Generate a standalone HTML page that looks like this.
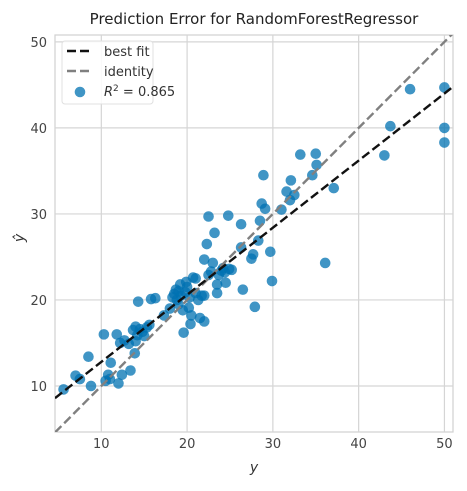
<!DOCTYPE html>
<html><head><meta charset="utf-8"><style>
body{margin:0;background:#fff;font-family:"DejaVu Sans","Liberation Sans",sans-serif;}
</style></head><body>
<svg id="chart" width="467" height="487" xmlns="http://www.w3.org/2000/svg"></svg>
<script>
const xTicks=[10,20,30,40,50];
const yTicks=[10,20,30,40,50];
const yTrue=[5.6,7,7.5,8.5,8.8,10.3,10.5,10.8,11,11.1,11.8,12,12.2,12.4,12.7,13.2,13.4,13.7,13.9,14,14.2,14,14.3,14.5,14.8,15,15.3,15.6,15.8,16.3,17.3,18,18.3,18.5,18.7,18.8,19,19,19.2,19.3,19.5,19.6,19.8,19.9,20,20.2,20.3,20.4,20.5,20.7,21,21,21.3,21.5,21.7,22,22,22,22.3,22.5,22.5,22.8,23,23.2,23.5,23.5,23.7,24,24.2,24.4,24.5,24.8,24.9,25.2,26.3,26.3,26.5,27.5,27.7,27.9,28.3,28.5,28.7,28.9,29.1,29.7,29.9,31,31.6,32,32.1,32.5,33.2,34.6,35,35.1,36.1,37.1,43,43.7,46,50,50,50];
const yPred=[9.6,11.2,10.8,13.4,10,16,10.6,11.3,10.8,12.7,16,10.3,15,11.3,15.3,14.9,11.8,16.5,13.8,15.2,15.9,16.9,19.8,16.6,16.3,15.8,16.8,17.1,20.1,20.2,18.2,19,20.3,20.7,21.2,20,21,19.5,21.8,20.5,18.8,16.2,20.9,22.1,21.5,19.1,20.3,17.2,18.2,22.6,22.5,20.8,20,17.9,20.5,24.7,20.5,17.5,26.5,29.7,22.9,23.3,24.3,27.8,21.8,20.8,22.9,23.4,23.7,23.2,22,29.8,23.6,23.5,26.1,28.8,21.2,24.8,25.3,19.2,26.9,29.2,31.2,34.5,30.6,25.6,22.2,30.5,32.6,31.6,33.9,32.2,36.9,34.5,37,35.7,24.3,33,36.8,40.2,44.5,44.7,40,38.3];
const fitSlope=[0.78];
const fitIntercept=[5.0];
const domain=[4.6,51.0];
const yDomain=[4.65,50.8];

const NS="http://www.w3.org/2000/svg";
const svg=document.getElementById('chart');
const L=55,R=453,T=35,B=432;
const sx=v=>L+(v-domain[0])/(domain[1]-domain[0])*(R-L);
const sy=v=>B-(v-yDomain[0])/(yDomain[1]-yDomain[0])*(B-T);
function mk(tag,attrs){const e=document.createElementNS(NS,tag);for(const k in attrs)e.setAttribute(k,attrs[k]);svg.appendChild(e);return e;}

const bg=mk('rect',{x:L,y:T,width:R-L,height:B-T,fill:'#fff',stroke:'#d0d0d0','stroke-width':1.2});


xTicks.forEach(t=>{
  const g=mk('line',{x1:sx(t),x2:sx(t),y1:T,y2:B,stroke:'#d5d5d5','stroke-width':1.2});
  
  
  const tx=mk('text',{x:sx(t),y:B+16,'text-anchor':'middle','font-size':13,fill:'#444'});
  tx.textContent=t;
  
  
});
yTicks.forEach(t=>{
  const g=mk('line',{x1:L,x2:R,y1:sy(t),y2:sy(t),stroke:'#d5d5d5','stroke-width':1.2});
  
  
  const tx=mk('text',{x:L-8,y:sy(t)+5,'text-anchor':'end','font-size':13,fill:'#444'});
  tx.textContent=t;
  
  
});
yTrue.forEach((v,i)=>{
  const c=mk('circle',{cx:sx(v),cy:sy(yPred[i]),r:5.3,fill:'#0072b2','fill-opacity':0.75});
  
  
});
const clip=mk('clipPath',{id:'pc'});
const cr=document.createElementNS(NS,'rect');cr.setAttribute('x',L);cr.setAttribute('y',T);cr.setAttribute('width',R-L);cr.setAttribute('height',B-T);clip.appendChild(cr);
const idl=mk('line',{x1:sx(domain[0]),y1:sy(domain[0]),x2:sx(domain[1]),y2:sy(domain[1]),stroke:'#808080','stroke-width':2.4,'stroke-dasharray':'9,4','clip-path':'url(#pc)'});


const f=v=>fitSlope[0]*v+fitIntercept[0];
const bf=mk('line',{x1:sx(domain[0]),y1:sy(f(domain[0])),x2:sx(domain[1]),y2:sy(f(domain[1])),stroke:'#111','stroke-width':2.4,'stroke-dasharray':'9,4','clip-path':'url(#pc)'});


</script>
<svg style="position:absolute;left:0;top:0" width="467" height="487" xmlns="http://www.w3.org/2000/svg">
<text x="254" y="24" text-anchor="middle" font-size="15" fill="#222">Prediction Error for RandomForestRegressor</text>
<text x="254" y="472" text-anchor="middle" font-size="14" font-style="italic" fill="#333">y</text>
<text x="24" y="238" text-anchor="middle" font-size="14" font-style="italic" fill="#333" transform="rotate(-90 24 238)">ŷ</text>
<g>
<rect x="62" y="41" width="91" height="63" rx="3" fill="#fff" fill-opacity="0.85" stroke="#e0e0e0"/>
<line x1="67" y1="51" x2="92" y2="51" stroke="#111" stroke-width="2.4" stroke-dasharray="9,4"/>
<text x="104" y="56" font-size="13" fill="#333">best fit</text>
<line x1="67" y1="71" x2="92" y2="71" stroke="#808080" stroke-width="2.4" stroke-dasharray="9,4"/>
<text x="104" y="76" font-size="13" fill="#333">identity</text>
<circle cx="80" cy="92" r="5.3" fill="#0072b2" fill-opacity="0.75"/>
<text x="104" y="96" font-size="13" fill="#333"><tspan font-style="italic">R</tspan><tspan font-size="9" dy="-5">2</tspan><tspan dy="5"> = 0.865</tspan></text>
</g>
</svg>
</body></html>
